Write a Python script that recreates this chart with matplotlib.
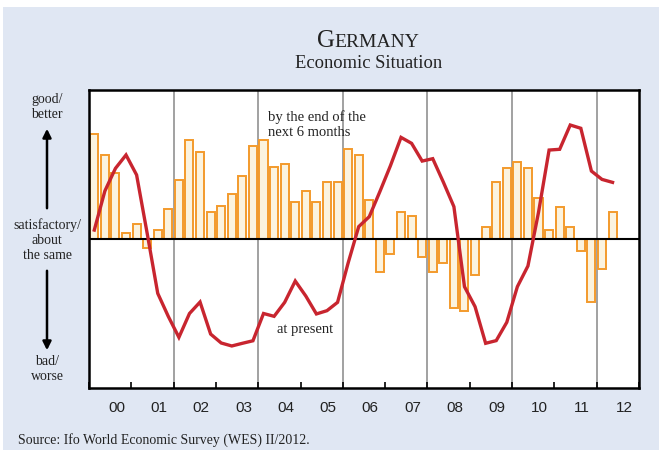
import numpy as np
import matplotlib
matplotlib.use("Agg")
import matplotlib.pyplot as plt
from matplotlib.patches import Rectangle, FancyArrowPatch

# quarterly WES balances (scaled so that the plot spans -100..100)
years = list(range(2000, 2013))
expectations = [70.3, 56.4, 44.1, 4.3,
                10.3, -6.3, 6.0, 20.1,
                39.8, 66.2, 58.2, 18.3,
                21.9, 30.4, 42.5, 62.4,
                66.2, 48.1, 50.3, 24.6,
                32.2, 24.6, 38.5, 38.5,
                60.2, 56.4, 26.2, -21.9,
                -10.3, 18.3, 15.7, -12.1,
                -21.9, -15.9, -46.1, -48.1,
                -24.2, 7.8, 38.0, 47.7,
                51.9, 47.9, 27.7, 6.0,
                21.7, 7.8, -7.8, -42.3,
                -19.9, 18.3]
present = [6.0, 32.2, 47.4, 56.4,
           43.0, 3.8, -36.5, -52.0,
           -66.0, -50.0, -42.3, -63.8,
           -69.8, -71.8, -70.0, -68.3,
           -50.0, -51.9, -42.5, -28.2,
           -38.3, -50.3, -48.1, -42.5,
           -16.1, 8.3, 15.0, 31.8,
           49.2, 68.2, 64.2, 52.3,
           53.9, 38.2, 21.7, -32.0,
           -45.4, -70.0, -68.2, -55.9,
           -32.0, -18.1, 17.9, 59.7,
           60.2, 76.5, 74.3, 45.6,
           40.0, 38.0]
year_labels = ["00", "01", "02", "03", "04", "05", "06",
               "07", "08", "09", "10", "11", "12"]

quarters = np.array([2000 + (i + 0.5) / 4 for i in range(len(expectations))])

serif = ["Liberation Serif", "DejaVu Serif"]
bg = "#E0E7F3"
txt = "#222222"

fig = plt.figure(figsize=(6.62, 4.5), dpi=100)
fig.patch.set_facecolor("white")
fig.patches.append(Rectangle((3 / 662, 0), 656 / 662, 443 / 450,
                             transform=fig.transFigure, facecolor=bg,
                             edgecolor="none", zorder=-10))

ax = fig.add_axes([89 / 662, 1 - 388 / 450, 550 / 662, 298 / 450])
ax.set_facecolor("white")
ax.set_xlim(2000, 2013)
ax.set_ylim(-100, 100)

for x in [2002, 2004, 2006, 2008, 2010, 2012]:
    ax.axvline(x, color="#9a9a9a", lw=1.3, zorder=1)

ax.bar(quarters, expectations, width=0.19, color="#FBF3DF",
       edgecolor="#F39A2C", linewidth=1.4, zorder=2)
ax.axhline(0, color="black", lw=1.5, zorder=3)
ax.plot(quarters, present, color="#C8252F", lw=2.4, zorder=4,
        solid_joinstyle="miter")

for s in ax.spines.values():
    s.set_linewidth(1.8)
    s.set_color("black")

ax.set_yticks([])
ax.set_xticks(years + [2013])
ax.set_xticklabels([])
ax.tick_params(axis="x", which="major", direction="in", length=4, width=1.2)
ax.set_xticks([y + 0.65 for y in years], minor=True)
ax.set_xticklabels(year_labels, minor=True, fontsize=11,
                   family=["Liberation Sans", "DejaVu Sans"])
ax.tick_params(axis="x", which="minor", length=0, pad=9, colors=txt)

ax.text(2004.23, 86.5, "by the end of the\nnext 6 months", family=serif,
        fontsize=10.5, va="top", ha="left", color=txt, linespacing=1.25)
ax.text(2004.44, -61, "at present", family=serif, fontsize=10.5,
        va="center", ha="left", color=txt)

# title with small caps, centred as a whole
t1 = fig.text(0, 1 - 47 / 450, "G", family=serif, fontsize=18,
              ha="left", va="baseline", color=txt)
t2 = fig.text(0, 1 - 47 / 450, "ERMANY", family=serif, fontsize=14,
              ha="left", va="baseline", color=txt)
fig.canvas.draw()
r = fig.canvas.get_renderer()
w1 = t1.get_window_extent(r).width / 662
w2 = t2.get_window_extent(r).width / 662
x0 = 368 / 662 - (w1 + w2) / 2
t1.set_x(x0)
t2.set_x(x0 + w1)
fig.text(369 / 662, 1 - 63 / 450, "Economic Situation", family=serif,
         fontsize=13.3, ha="center", va="center", color=txt)

# left scale labels
lx = 47 / 662
fig.text(lx, 1 - 107 / 450, "good/\nbetter", family=serif, fontsize=10,
         ha="center", va="center", color=txt, linespacing=1.2)
fig.text(lx, 1 - 240 / 450, "satisfactory/\nabout\nthe same", family=serif,
         fontsize=10, ha="center", va="center", color=txt, linespacing=1.2)
fig.text(lx, 1 - 369 / 450, "bad/\nworse", family=serif, fontsize=10,
         ha="center", va="center", color=txt, linespacing=1.2)
fig.patches.append(FancyArrowPatch(
    (lx, 1 - 211 / 450), (lx, 1 - 126 / 450), transform=fig.transFigure,
    arrowstyle="-|>,head_length=5,head_width=2.5", color="black", lw=1.8))
fig.patches.append(FancyArrowPatch(
    (lx, 1 - 268 / 450), (lx, 1 - 353 / 450), transform=fig.transFigure,
    arrowstyle="-|>,head_length=5,head_width=2.5", color="black", lw=1.8))

fig.text(18 / 662, 1 - 440 / 450, "Source: Ifo World Economic Survey (WES) II/2012.",
         family=serif, fontsize=10, ha="left", va="center", color=txt)

fig.savefig("out.png", dpi=100, facecolor=fig.get_facecolor())
